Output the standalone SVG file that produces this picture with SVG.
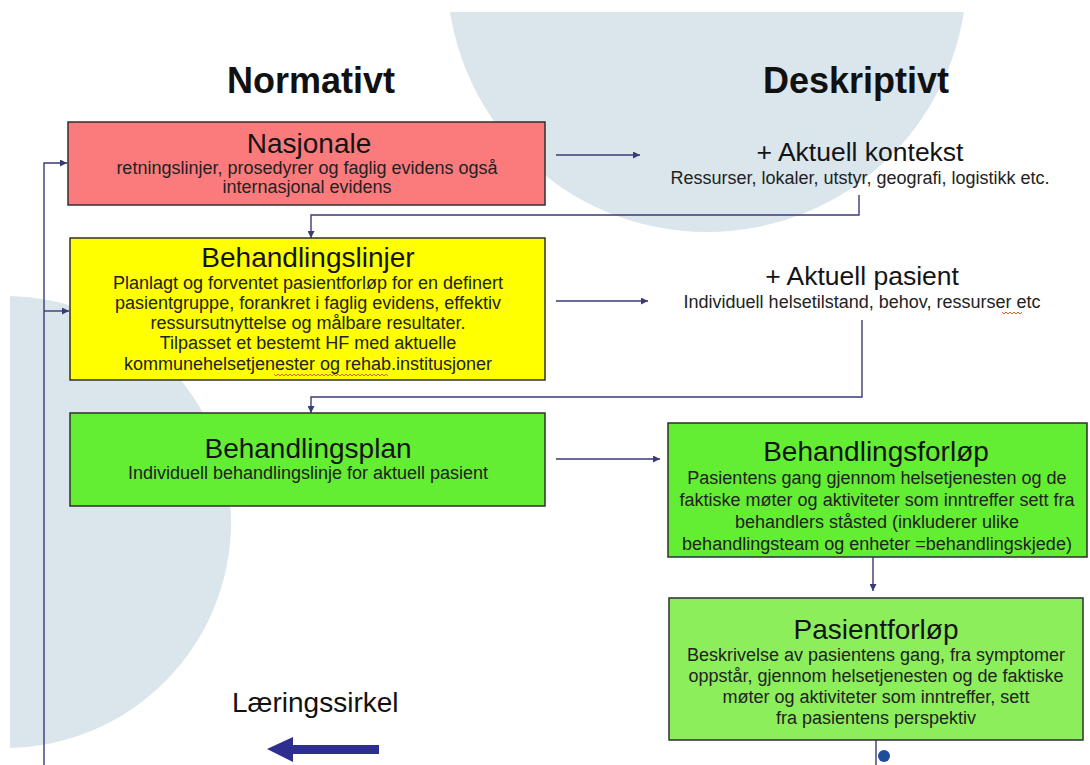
<svg xmlns="http://www.w3.org/2000/svg" width="1090" height="765" viewBox="0 0 1090 765">
  <defs>
    <style>
      .bg { fill: #dae5ec; }
      .box { stroke: #2f2f2f; stroke-width: 1.5; }
      .red { fill: #fb7b7d; }
      .yellow { fill: #ffff00; }
      .green { fill: #64ee33; }
      .lightgreen { fill: #8cee5b; }
      .head { font-family: "Liberation Sans", Arial, sans-serif; font-weight: bold; font-size: 36px; fill: #111; text-anchor: middle; }
      .title { font-family: "Liberation Sans", Arial, sans-serif; font-size: 28px; fill: #141414; text-anchor: middle; }
      .ctx { font-family: "Liberation Sans", Arial, sans-serif; font-size: 26.5px; fill: #141414; text-anchor: middle; }
      .sub { font-family: "Liberation Sans", Arial, sans-serif; font-size: 18px; fill: #222; text-anchor: middle; }
      .label { font-family: "Liberation Sans", Arial, sans-serif; font-size: 28px; fill: #111; }
      .conn { fill: none; stroke: #3a3a78; stroke-width: 1.4; }
      .squiggle { fill: none; stroke: #e0603a; stroke-width: 1; }
    </style>
    <marker id="arrow" viewBox="0 0 10 10" refX="10" refY="5" markerWidth="8" markerHeight="7" markerUnits="userSpaceOnUse" orient="auto">
      <path d="M0,0 L10,5 L0,10 Z" fill="#3a3a78"/>
    </marker>
    <clipPath id="page">
      <rect x="10" y="12" width="1080" height="753"/>
    </clipPath>
  </defs>

  <rect width="1090" height="765" fill="#ffffff"/>

  <!-- background discs -->
  <g clip-path="url(#page)">
    <circle class="bg" cx="707" cy="-28" r="260"/>
    <circle class="bg" cx="5" cy="522" r="226"/>
  </g>

  <!-- column headings -->
  <text class="head" x="311" y="93">Normativt</text>
  <text class="head" x="856" y="93">Deskriptivt</text>

  <!-- connectors -->
  <g id="connectors">
    <line class="conn" x1="556" y1="155" x2="640" y2="155" marker-end="url(#arrow)"/>
    <polyline class="conn" points="859,195 859,215 311,215 311,238" marker-end="url(#arrow)"/>
    <line class="conn" x1="556" y1="301" x2="648" y2="301" marker-end="url(#arrow)"/>
    <polyline class="conn" points="862,320 862,397 311,397 311,413" marker-end="url(#arrow)"/>
    <line class="conn" x1="556" y1="459" x2="660" y2="459" marker-end="url(#arrow)"/>
    <line class="conn" x1="873" y1="557" x2="873" y2="591" marker-end="url(#arrow)"/>
    <line class="conn" x1="876" y1="740" x2="876" y2="765"/>
    <!-- feedback loop on the left -->
    <polyline class="conn" points="44,765 44,163 67,163" marker-end="url(#arrow)"/>
    <line class="conn" x1="44" y1="311" x2="69" y2="311" marker-end="url(#arrow)"/>
  </g>

  <g id="nasjonale">
    <rect class="box red" x="68" y="122" width="477" height="83"/>
    <text class="title" x="309" y="153">Nasjonale</text>
    <text class="sub" x="307" y="174">retningslinjer, prosedyrer og faglig evidens også</text>
    <text class="sub" x="307" y="193">internasjonal evidens</text>
  </g>

  <g id="aktuell-kontekst">
    <text class="ctx" x="860" y="161">+ Aktuell kontekst</text>
    <text class="sub" x="860" y="184">Ressurser, lokaler, utstyr, geografi, logistikk etc.</text>
  </g>

  <g id="behandlingslinjer">
    <rect class="box yellow" x="70" y="238" width="475" height="142"/>
    <text class="title" x="308" y="267">Behandlingslinjer</text>
    <text class="sub" x="308" y="289">Planlagt og forventet pasientforløp for en definert</text>
    <text class="sub" x="308" y="309">pasientgruppe, forankret i faglig evidens, effektiv</text>
    <text class="sub" x="308" y="329">ressursutnyttelse og målbare resultater.</text>
    <text class="sub" x="308" y="349">Tilpasset et bestemt HF med aktuelle</text>
    <text class="sub" x="308" y="370">kommunehelsetjenester og rehab.institusjoner</text>
    <path class="squiggle" d="M274,374 l2,2 l2,-2 l2,2 l2,-2 l2,2 l2,-2 l2,2 l2,-2 l2,2 l2,-2 l2,2 l2,-2 l2,2 l2,-2 l2,2 l2,-2 l2,2 l2,-2 l2,2 l2,-2 l2,2 l2,-2 l2,2 l2,-2 l2,2 l2,-2 l2,2 l2,-2 l2,2 l2,-2 l2,2 l2,-2 l2,2 l2,-2 l2,2 l2,-2 l2,2 l2,-2 l2,2 l2,-2 l2,2 l2,-2 l2,2 l2,-2 l2,2 l2,-2 l2,2 l2,-2 l2,2 l2,-2 l2,2 l2,-2 l2,2 l2,-2 l2,2 l2,-2 l2,2"/>
  </g>

  <g id="aktuell-pasient">
    <text class="ctx" x="862" y="285">+ Aktuell pasient</text>
    <text class="sub" x="862" y="308">Individuell helsetilstand, behov, ressurser etc</text>
    <path class="squiggle" d="M1002,312 l2,2 l2,-2 l2,2 l2,-2 l2,2 l2,-2 l2,2 l2,-2 l2,2 l2,-2"/>
  </g>

  <g id="behandlingsplan">
    <rect class="box green" x="70" y="413" width="475" height="93"/>
    <text class="title" x="308" y="458">Behandlingsplan</text>
    <text class="sub" x="308" y="479">Individuell behandlingslinje for aktuell pasient</text>
  </g>

  <g id="behandlingsforlop">
    <rect class="box green" x="668" y="423" width="419" height="134"/>
    <text class="title" x="876" y="461">Behandlingsforløp</text>
    <text class="sub" x="877" y="484">Pasientens gang gjennom helsetjenesten og de</text>
    <text class="sub" x="877" y="506">faktiske møter og aktiviteter som inntreffer sett fra</text>
    <text class="sub" x="877" y="528">behandlers ståsted (inkluderer ulike</text>
    <text class="sub" x="877" y="550">behandlingsteam og enheter =behandlingskjede)</text>
  </g>

  <g id="pasientforlop">
    <rect class="box lightgreen" x="669" y="598" width="414" height="142"/>
    <text class="title" x="876" y="639">Pasientforløp</text>
    <text class="sub" x="876" y="661">Beskrivelse av pasientens gang, fra symptomer</text>
    <text class="sub" x="876" y="682">oppstår, gjennom helsetjenesten og de faktiske</text>
    <text class="sub" x="876" y="703">møter og aktiviteter som inntreffer, sett</text>
    <text class="sub" x="876" y="724">fra pasientens perspektiv</text>
  </g>

  <circle cx="884" cy="756" r="6" fill="#1f4d9c"/>

  <g id="laeringssirkel">
    <text class="label" x="232" y="712">Læringssirkel</text>
    <polygon points="267,749 293,737 293,745 379,745 379,754 293,754 293,762" fill="#2c2f8f"/>
  </g>
</svg>
